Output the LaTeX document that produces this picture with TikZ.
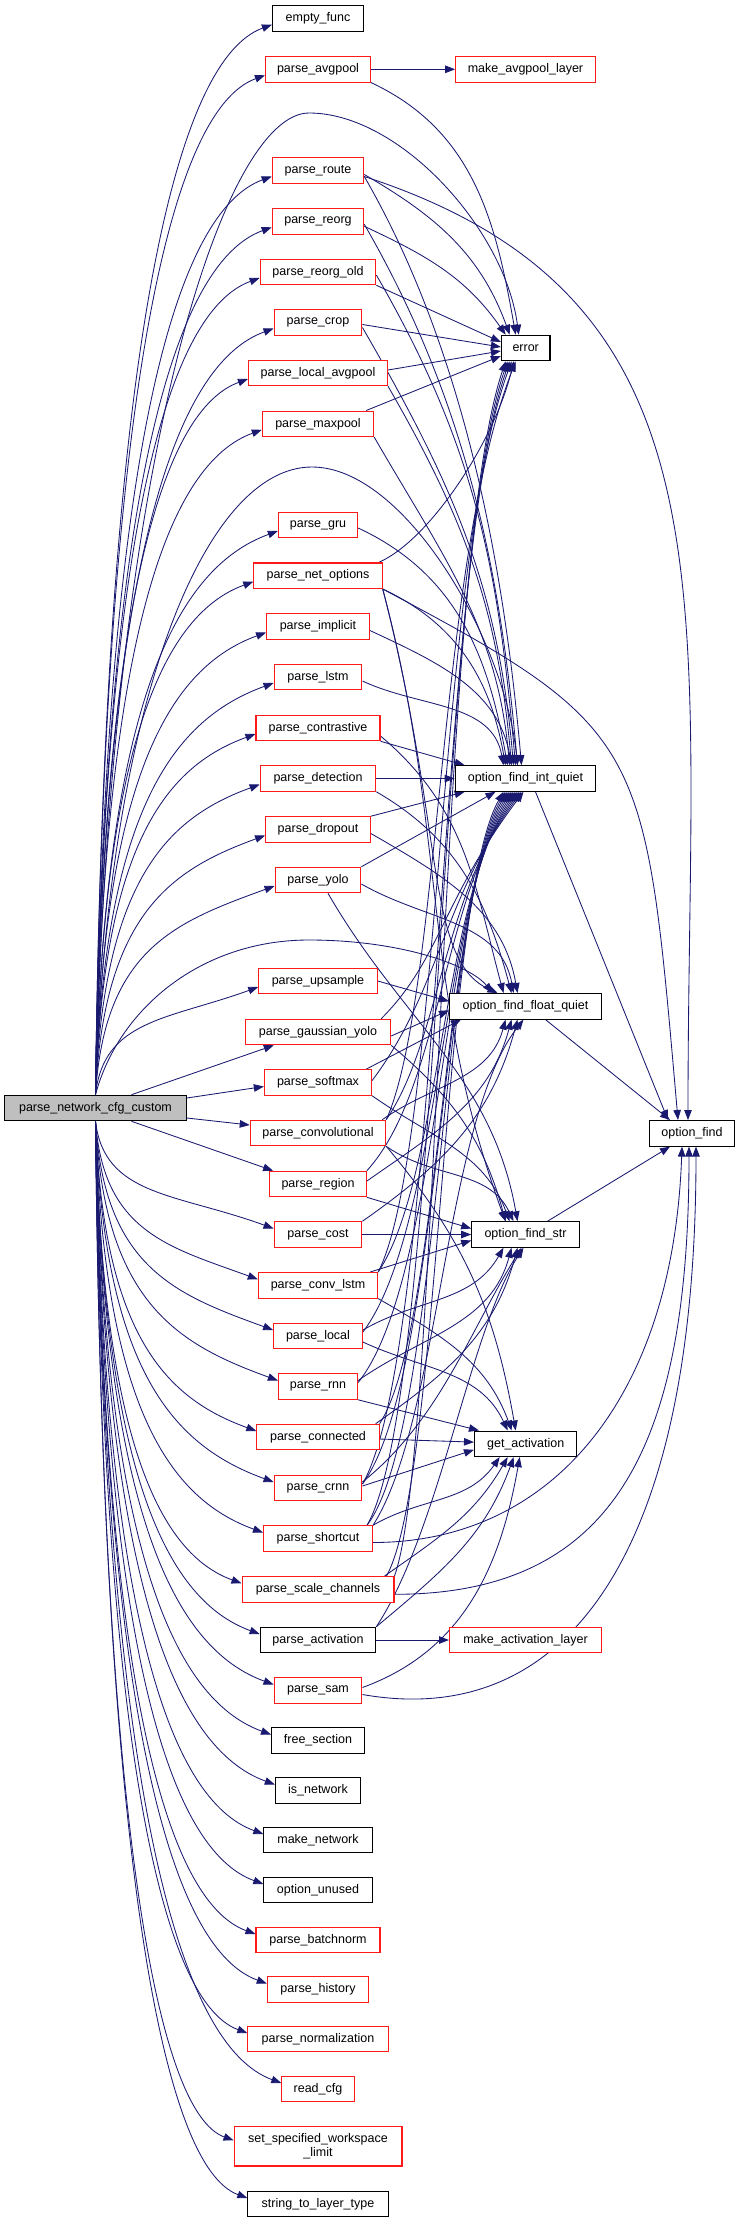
\documentclass[tikz,border=0pt]{standalone}
\usepackage{fontspec}
\setmainfont{Liberation Sans}
\usetikzlibrary{arrows.meta,calc,backgrounds}
\definecolor{navyc}{HTML}{191970}
\definecolor{redb}{HTML}{FF1A1A}
\definecolor{greyf}{HTML}{BFBFBF}
\newcommand\fsz{\fontsize{12.5pt}{14pt}\selectfont}
\tikzset{
 fn/.style={draw=black,line width=1.1pt,fill=white,inner sep=0pt,minimum height=25.5pt,font=\fsz},
 rfn/.style={fn,draw=redb},
 edge/.style={draw=navyc,line width=0.85pt,-{Triangle[length=10pt,width=7.5pt]}},
 dl/.style={out=-60,in=95,max distance=200pt},
 dm/.style={out=-25,in=100,max distance=200pt},
 um/.style={out=35,in=-105,max distance=200pt},
}
\newcommand\rup[1]{\draw[edge] let \p1=(root.north), \p2=([yshift=-6pt]#1.west), \n1={\x2-\x1}, \n2={\y2-\y1} in (root.north) .. controls ({\x1+0.05*\n1},{\y1+0.7*\n2}) and ({\x2-0.55*\n1},{\y2-0.2*\n1}) .. ([yshift=-6pt]#1.west);}
\newcommand\rdown[1]{\draw[edge] let \p1=(root.south), \p2=([yshift=6pt]#1.west), \n1={\x2-\x1}, \n2={\y2-\y1} in (root.south) .. controls ({\x1+0.05*\n1},{\y1+0.7*\n2}) and ({\x2-0.55*\n1},{\y2+0.2*\n1}) .. ([yshift=6pt]#1.west);}
\begin{document}
\begin{tikzpicture}[x=1pt,y=1pt]
\useasboundingbox (0,0) rectangle (736,-2232);
% root
\node[fn,fill=greyf,minimum width=181.6pt] (root) at (95.5,-1108) {parse\_network\_cfg\_custom};
% middle column
\node[fn, minimum width=91pt]    (ef)    at (318,-18.7)  {empty\_func};
\node[rfn,minimum width=105pt]   (avg)   at (318,-69.3)  {parse\_avgpool};
\node[rfn,minimum width=91.5pt]  (route) at (318,-170.5) {parse\_route};
\node[rfn,minimum width=91.5pt]  (reorg) at (318,-221.3) {parse\_reorg};
\node[rfn,minimum width=115.6pt] (reorgo) at (318,-272)  {parse\_reorg\_old};
\node[rfn,minimum width=87.8pt]  (crop)  at (318,-322.5) {parse\_crop};
\node[rfn,minimum width=139pt]   (lavg)  at (318,-373)   {parse\_local\_avgpool};
\node[rfn,minimum width=111.3pt] (maxp)  at (318,-423.8) {parse\_maxpool};
\node[rfn,minimum width=79.2pt]  (gru)   at (318,-525)   {parse\_gru};
\node[rfn,minimum width=128.3pt] (net)   at (318,-575.7) {parse\_net\_options};
\node[rfn,minimum width=102.8pt] (impl)  at (318,-626.5) {parse\_implicit};
\node[rfn,minimum width=87.8pt]  (lstm)  at (318,-677)   {parse\_lstm};
\node[rfn,minimum width=124pt]   (contr) at (318,-728)   {parse\_contrastive};
\node[rfn,minimum width=115.6pt] (det)   at (318,-778.5) {parse\_detection};
\node[rfn,minimum width=104.7pt] (drop)  at (318,-829.5) {parse\_dropout};
\node[rfn,minimum width=85.8pt]  (yolo)  at (318,-880)   {parse\_yolo};
\node[rfn,minimum width=118.4pt] (ups)   at (318,-981)   {parse\_upsample};
\node[rfn,minimum width=145.3pt] (gyolo) at (318,-1032)  {parse\_gaussian\_yolo};
\node[rfn,minimum width=107.2pt] (soft)  at (318,-1082.5) {parse\_softmax};
\node[rfn,minimum width=135.4pt] (conv)  at (318,-1133)  {parse\_convolutional};
\node[rfn,minimum width=96.7pt]  (region) at (318,-1184) {parse\_region};
\node[rfn,minimum width=87.8pt]  (cost)  at (318,-1234.5) {parse\_cost};
\node[rfn,minimum width=119.3pt] (clstm) at (318,-1285.3) {parse\_conv\_lstm};
\node[rfn,minimum width=88.7pt]  (local) at (318,-1336)  {parse\_local};
\node[rfn,minimum width=79.2pt]  (rnn)   at (318,-1386.5) {parse\_rnn};
\node[rfn,minimum width=122.2pt] (conn)  at (318,-1437)  {parse\_connected};
\node[rfn,minimum width=87.8pt]  (crnn)  at (318,-1488)  {parse\_crnn};
\node[rfn,minimum width=109pt]   (short) at (318,-1538.5) {parse\_shortcut};
\node[rfn,minimum width=151.9pt] (scale) at (318,-1589.3) {parse\_scale\_channels};
\node[fn, minimum width=115.6pt] (act)   at (318,-1640)  {parse\_activation};
\node[rfn,minimum width=87.8pt]  (sam)   at (318,-1690.5) {parse\_sam};
\node[fn, minimum width=92.9pt]  (free)  at (318,-1740.5) {free\_section};
\node[fn, minimum width=85.3pt]  (isn)   at (318,-1790.5) {is\_network};
\node[fn, minimum width=108.2pt] (mknet) at (318,-1840)  {make\_network};
\node[fn, minimum width=108.2pt] (unused) at (318,-1890) {option\_unused};
\node[rfn,minimum width=124pt]   (bn)    at (318,-1940)  {parse\_batchnorm};
\node[rfn,minimum width=101.4pt] (hist)  at (318,-1989.5) {parse\_history};
\node[rfn,minimum width=140.2pt] (norm)  at (318,-2039)  {parse\_normalization};
\node[rfn,minimum width=72.2pt]  (rcfg)  at (318,-2089)  {read\_cfg};
\node[rfn,minimum width=167.9pt,minimum height=39.3pt,align=center] (ssw) at (318,-2146.3) {set\_specified\_workspace\\\_limit};
\node[fn, minimum width=140.2pt] (s2l)   at (318,-2204)  {string\_to\_layer\_type};
% right column
\node[rfn,minimum width=139.6pt] (mal)  at (525.5,-69.3)  {make\_avgpool\_layer};
\node[fn, minimum width=48.6pt]  (err)  at (525.7,-348)   {error};
\node[fn, minimum width=140.6pt] (fi)   at (525.5,-778.5) {option\_find\_int\_quiet};
\node[fn, minimum width=151.9pt] (ff)   at (525.5,-1006.3) {option\_find\_float\_quiet};
\node[fn, minimum width=107.5pt] (fs)   at (525.5,-1234.5) {option\_find\_str};
\node[fn, minimum width=102.4pt] (ga)   at (525.7,-1443.8) {get\_activation};
\node[rfn,minimum width=151.9pt] (mact) at (525.5,-1640)  {make\_activation\_layer};
\node[fn, minimum width=84.9pt]  (of)   at (692,-1133.3)  {option\_find};
\coordinate (lpE) at (309,-113);
\coordinate (lpI) at (312,-467);
\coordinate (lpF) at (309,-940);

\begin{pgfonlayer}{background}
% ---- root edges
\rup{ef}\rup{avg}\rup{route}\rup{reorg}\rup{reorgo}\rup{crop}\rup{lavg}\rup{maxp}
\rup{gru}\rup{net}\rup{impl}\rup{lstm}\rup{contr}\rup{det}\rup{drop}\rup{yolo}\rup{ups}
\draw[edge] ([yshift=10pt]root.east) -- ([yshift=-4pt]soft.west);
\draw[edge] ([yshift=-10pt]root.east) -- ([yshift=8pt]conv.west);
\draw[edge] ([xshift=36pt]root.north) -- ([xshift=29pt]gyolo.south west);
\draw[edge] ([xshift=36pt]root.south) -- ([xshift=4pt]region.north west);
\rdown{cost}\rdown{clstm}\rdown{local}\rdown{rnn}\rdown{conn}\rdown{crnn}\rdown{short}
\rdown{scale}\rdown{act}\rdown{sam}\rdown{free}\rdown{isn}\rdown{mknet}\rdown{unused}
\rdown{bn}\rdown{hist}\rdown{norm}\rdown{rcfg}\rdown{ssw}\rdown{s2l}
\draw[edge] (root.north) .. controls (110,-450) and (225,-113) .. (lpE) .. controls (400,-113) and (505,-230) .. ([xshift=-7pt]err.north);
\draw[edge] (root.north) .. controls (108,-700) and (205,-467) .. (lpI) .. controls (405,-467) and (505,-640) .. ([xshift=-8pt]fi.north);
\draw[edge] (root.north) .. controls (118,-1010) and (200,-940) .. (lpF) .. controls (400,-940) and (470,-965) .. ([xshift=-33pt]ff.north);
% ---- top group
\draw[edge] (avg) -- (mal);
\draw[edge] (avg.south east) to[dm] ([xshift=-10pt]err.north);
\draw[edge] ([yshift=-4pt]route.east) to[out=-30,in=110] ([xshift=-16pt]err.north);
\draw[edge] ([yshift=-6pt]route.east) to[dl] ([xshift=-4pt]fi.north);
\draw[edge] ([yshift=-6pt]route.east) .. controls +(-18:400pt) and +(90:520pt) .. ([xshift=-4pt]of.north);
\draw[edge] ([yshift=-5pt]reorg.east) to[out=-25,in=125] ([xshift=-20pt]err.north);
\draw[edge] ([yshift=-3pt]reorg.east) to[dl] ([xshift=-8pt]fi.north);
\draw[edge] (reorgo.south east) -- ([yshift=6pt]err.west);
\draw[edge] ([yshift=-3pt]reorgo.east) to[dl] ([xshift=-10pt]fi.north);
\draw[edge] ([yshift=-2pt]crop.east) -- ([yshift=1pt]err.west);
\draw[edge] ([yshift=-5pt]crop.east) to[dl] ([xshift=-12pt]fi.north);
\draw[edge] ([yshift=3pt]lavg.east) -- ([yshift=-3pt]err.west);
\draw[edge] (lavg.south east) to[dl] ([xshift=-14pt]fi.north);
\draw[edge] ([xshift=-8pt]maxp.north east) -- ([yshift=-8pt]err.west);
\draw[edge] (maxp.south east) to[dl] ([xshift=-16pt]fi.north);
\draw[edge] ([yshift=-3pt]gru.east) to[dm] ([xshift=-18pt]fi.north);
% net options
\draw[edge] ([xshift=-4pt]net.north east) .. controls (430,-540) and (495,-440) .. ([xshift=-12pt]err.south);
\draw[edge] (net.south east) to[dm] ([xshift=-20pt]fi.north);
\draw[edge] (net.south east) .. controls (445,-830) and (425,-960) .. ([xshift=-28pt]ff.north);
\draw[edge] (net.south east) .. controls (447,-830) and (421,-991) .. ([xshift=-20pt]fs.north);
\draw[edge] (net.south east) .. controls +(-28:300pt) and +(95:380pt) .. ([xshift=-14pt]of.north);
\draw[edge] ([yshift=-4pt]impl.east) to[dm] ([xshift=-14pt]fi.north);
\draw[edge] ([yshift=-4pt]lstm.east) to[dm] ([xshift=-22pt]fi.north);
\draw[edge] (contr.south east) -- ([xshift=10pt]fi.north west);
\draw[edge] ([yshift=-8pt]contr.east) to[out=-40,in=105] ([xshift=-22pt]ff.north);
\draw[edge] (det) -- (fi);
\draw[edge] (det.south east) to[out=-30,in=105] ([xshift=-14pt]ff.north);
\draw[edge] (drop.north east) -- ([xshift=10pt]fi.south west);
\draw[edge] ([yshift=-4pt]drop.east) to[out=-30,in=100] ([xshift=-8pt]ff.north);
\draw[edge] (yolo.north east) -- ([xshift=-30pt]fi.south);
\draw[edge] ([yshift=-4pt]yolo.east) to[out=-30,in=100] ([xshift=-12pt]ff.north);
\draw[edge] ([xshift=10pt]yolo.south) to[out=-60,in=100,max distance=200pt] ([xshift=-8pt]fs.north);
\draw[edge] (ups.east) -- ([yshift=5pt]ff.west);
% gaussian yolo / softmax / conv / region
\draw[edge] ([yshift=-4pt]gyolo.east) -- ([yshift=-4pt]ff.west);
\draw[edge] ([xshift=-10pt]gyolo.north east) .. controls (440,-960) and (442,-900) .. ([xshift=-2pt]fi.south);
\draw[edge] (gyolo.south east) to[out=-40,in=105] ([xshift=-20pt]fs.north);
\draw[edge] ([xshift=-6pt]soft.north east) -- ([xshift=12pt]ff.south west);
\draw[edge] ([yshift=2pt]soft.east) .. controls (440,-990) and (442,-900) .. ([xshift=-4pt]fi.south);
\draw[edge] (soft.south east) to[out=-35,in=110] ([xshift=-16pt]fs.north);
\draw[edge] ([xshift=-4pt]conv.north east) to[um] ([xshift=-20pt]ff.south);
\draw[edge] (conv.north east) .. controls (440,-1040) and (442,-900) .. ([xshift=-6pt]fi.south);
\draw[edge] (conv.north east) .. controls (440,-1000) and (438,-560) .. ([xshift=-10pt]err.south);
\draw[edge] (conv.south east) to[out=-35,in=115] ([xshift=-12pt]fs.north);
\draw[edge] (conv.south east) to[out=-50,in=100,max distance=200pt] ([xshift=-10pt]ga.north);
\draw[edge] ([yshift=3pt]region.east) to[um] ([xshift=-14pt]ff.south);
\draw[edge] (region.north east) .. controls (440,-1090) and (442,-900) .. ([xshift=-8pt]fi.south);
\draw[edge] (region.south east) -- ([yshift=6pt]fs.west);
% cost
\draw[edge] (cost) -- (fs);
\draw[edge] (cost.north east) to[um] ([xshift=-8pt]ff.south);
% conv lstm
\draw[edge] (clstm.north east) .. controls (440,-1180) and (442,-900) .. ([xshift=-10pt]fi.south);
\draw[edge] (clstm.north east) .. controls (440,-1150) and (438,-560) .. ([xshift=-14pt]err.south);
\draw[edge] ([xshift=-8pt]clstm.north east) -- ([yshift=-6pt]fs.west);
\draw[edge] (clstm.south east) to[out=-30,in=110] ([xshift=-14pt]ga.north);
% local
\draw[edge] ([yshift=4pt]local.east) .. controls (440,-1230) and (442,-900) .. ([xshift=-12pt]fi.south);
\draw[edge] ([yshift=6pt]local.east) to[out=30,in=-120] ([xshift=-22pt]fs.south);
\draw[edge] ([yshift=-6pt]local.east) to[out=-25,in=115] ([xshift=-18pt]ga.north);
% rnn
\draw[edge] ([yshift=4pt]rnn.east) .. controls (440,-1280) and (442,-900) .. ([xshift=-14pt]fi.south);
\draw[edge] ([yshift=6pt]rnn.east) to[um] ([xshift=-14pt]fs.south);
\draw[edge] (rnn.south east) -- ([xshift=5pt]ga.north west);
% connected
\draw[edge] (conn.north east) .. controls (440,-1330) and (442,-900) .. ([xshift=-16pt]fi.south);
\draw[edge] ([xshift=-4pt]conn.north east) to[um] ([xshift=-8pt]fs.south);
\draw[edge] (conn) -- (ga);
% crnn
\draw[edge] ([yshift=4pt]crnn.east) .. controls (440,-1380) and (442,-900) .. ([xshift=-18pt]fi.south);
\draw[edge] ([yshift=4pt]crnn.east) .. controls (440,-1350) and (438,-560) .. ([xshift=-16pt]err.south);
\draw[edge] ([yshift=6pt]crnn.east) .. controls (440,-1420) and (470,-1330) .. ([xshift=-4pt]fs.south);
\draw[edge] ([yshift=2pt]crnn.east) -- ([yshift=-6pt]ga.west);
% shortcut
\draw[edge] ([xshift=-6pt]short.north east) .. controls (440,-1430) and (442,-900) .. ([xshift=-20pt]fi.south);
\draw[edge] ([xshift=-6pt]short.north east) .. controls (440,-1400) and (438,-560) .. ([xshift=-18pt]err.south);
\draw[edge] (short.north east) .. controls (440,-1420) and (445,-1120) .. ([xshift=-2pt]ff.south);
\draw[edge] (short.north east) to[out=30,in=-125] ([xshift=-26pt]ga.south);
\draw[edge] ([yshift=-4pt]short.east) .. controls +(0:180pt) and +(-92:250pt) .. ([xshift=-10pt]of.south);
% scale channels
\draw[edge] (scale.north east) .. controls (440,-1450) and (438,-560) .. ([xshift=-20pt]err.south);
\draw[edge] ([xshift=-8pt]scale.north east) .. controls (440,-1480) and (442,-900) .. ([xshift=-22pt]fi.south);
\draw[edge] ([xshift=-10pt]scale.north east) to[out=35,in=-120] ([xshift=-18pt]ga.south);
\draw[edge] ([yshift=-5pt]scale.east) .. controls +(0:220pt) and +(-90:300pt) .. ([xshift=-3pt]of.south);
% activation
\draw[edge] (act) -- (mact);
\draw[edge] (act.north east) .. controls (440,-1530) and (470,-1330) .. ([xshift=-2pt]fs.south);
\draw[edge] (act.north east) to[out=40,in=-110] ([xshift=-12pt]ga.south);
% sam
\draw[edge] ([yshift=3pt]sam.east) to[out=20,in=-100] ([xshift=-6pt]ga.south);
\draw[edge] ([yshift=-4pt]sam.east) .. controls +(-10:200pt) and +(-90:420pt) .. ([xshift=4pt]of.south);
% to option_find
\draw[edge] ([xshift=10pt]fi.south) -- ([xshift=-24pt]of.north);
\draw[edge] ([xshift=20pt]ff.south) -- ([xshift=-22pt]of.north);
\draw[edge] ([xshift=22pt]fs.north) -- ([xshift=-22pt]of.south);
\end{pgfonlayer}
\end{tikzpicture}
\end{document}
